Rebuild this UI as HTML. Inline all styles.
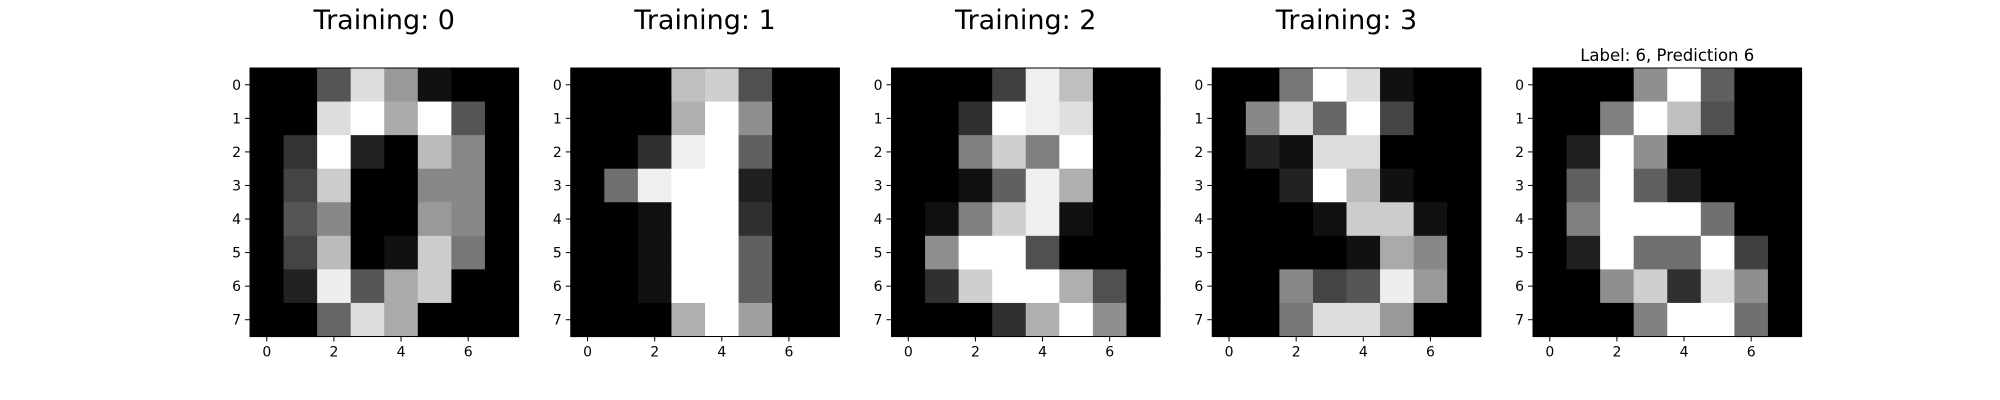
<!DOCTYPE html>
<html><head><meta charset="utf-8"><style>
html,body{margin:0;padding:0;background:#fff;}
svg{display:block;font-family:"DejaVu Sans","Liberation Sans",sans-serif;}
</style></head><body>
<svg id="fig" width="2000" height="400" viewBox="0 0 2000 400" xmlns="http://www.w3.org/2000/svg"></svg>
<script>
const titles = ["Training: 0","Training: 1","Training: 2","Training: 3","Label: 6, Prediction 6"];
const img0 = [0,0,5,13,9,1,0,0, 0,0,13,15,10,15,5,0, 0,3,15,2,0,11,8,0, 0,4,12,0,0,8,8,0, 0,5,8,0,0,9,8,0, 0,4,11,0,1,12,7,0, 0,2,14,5,10,12,0,0, 0,0,6,13,10,0,0,0];
const img1 = [0,0,0,12,13,5,0,0, 0,0,0,11,16,9,0,0, 0,0,3,15,16,6,0,0, 0,7,15,16,16,2,0,0, 0,0,1,16,16,3,0,0, 0,0,1,16,16,6,0,0, 0,0,1,16,16,6,0,0, 0,0,0,11,16,10,0,0];
const img2 = [0,0,0,4,15,12,0,0, 0,0,3,16,15,14,0,0, 0,0,8,13,8,16,0,0, 0,0,1,6,15,11,0,0, 0,1,8,13,15,1,0,0, 0,9,16,16,5,0,0,0, 0,3,13,16,16,11,5,0, 0,0,0,3,11,16,9,0];
const img3 = [0,0,7,15,13,1,0,0, 0,8,13,6,15,4,0,0, 0,2,1,13,13,0,0,0, 0,0,2,15,11,1,0,0, 0,0,0,1,12,12,1,0, 0,0,0,0,1,10,8,0, 0,0,8,4,5,14,9,0, 0,0,7,13,13,9,0,0];
const img4 = [0,0,0,9,16,6,0,0, 0,0,8,16,12,5,0,0, 0,2,16,9,0,0,0,0, 0,6,16,6,2,0,0,0, 0,8,16,16,16,7,0,0, 0,2,16,7,7,16,4,0, 0,0,9,13,3,14,9,0, 0,0,0,8,16,16,7,0];
const images = [img0,img1,img2,img3,img4];
const xTicks = [0,2,4,6];
const yTicks = [0,1,2,3,4,5,6,7];

const NS = "http://www.w3.org/2000/svg";
const svgEl = document.getElementById('fig');
function mk(tag, attrs, parent){
  const e = document.createElementNS(NS, tag);
  for (const k in attrs) e.setAttribute(k, attrs[k]);
  (parent||svgEl).appendChild(e);
  return e;
}
const left0 = 250, gap = 320.75, axTop = 68, size = 268.5, cell = size/8;
images.forEach((img, p) => {
  const g = mk('g', {});
  
  
  const x0 = left0 + p*gap;
  const sx = c => x0 + (c + 0.5) * cell;
  const sy = r => axTop + (r + 0.5) * cell;
  const vmax = Math.max(...img), vmin = Math.min(...img);
  img.forEach((v, i) => {
    const r = Math.floor(i/8), c = i % 8;
    const gv = Math.round((v - vmin) / (vmax - vmin) * 255);
    const rc = mk('rect', {x: sx(c) - cell/2, y: sy(r) - cell/2, width: cell + 0.6, height: cell + 0.6, fill: `rgb(${gv},${gv},${gv})`}, g);
    
    
  });
  const fr = mk('rect', {x: x0, y: axTop, width: size, height: size, fill: 'none', stroke: '#000', 'stroke-width': 1}, g);
  
  
  yTicks.forEach(t => {
    mk('line', {x1: x0 - 5, x2: x0, y1: sy(t), y2: sy(t), stroke: '#000', 'stroke-width': 1}, g);
    const tx = mk('text', {x: x0 - 9, y: sy(t) + 5, 'font-size': 14, 'text-anchor': 'end', fill: '#000'}, g);
    tx.textContent = t;
    
    
  });
  xTicks.forEach(t => {
    mk('line', {x1: sx(t), x2: sx(t), y1: axTop + size, y2: axTop + size + 5, stroke: '#000', 'stroke-width': 1}, g);
    const tx = mk('text', {x: sx(t), y: axTop + size + 20, 'font-size': 14, 'text-anchor': 'middle', fill: '#000'}, g);
    tx.textContent = t;
    
    
  });
  const big = p < 4;
  const tt = mk('text', {x: x0 + size/2, y: big ? 29 : 61, 'font-size': big ? 27 : 16.5, 'text-anchor': 'middle', fill: '#000'}, g);
  tt.textContent = titles[p];
  
  
});
</script>
</body></html>
